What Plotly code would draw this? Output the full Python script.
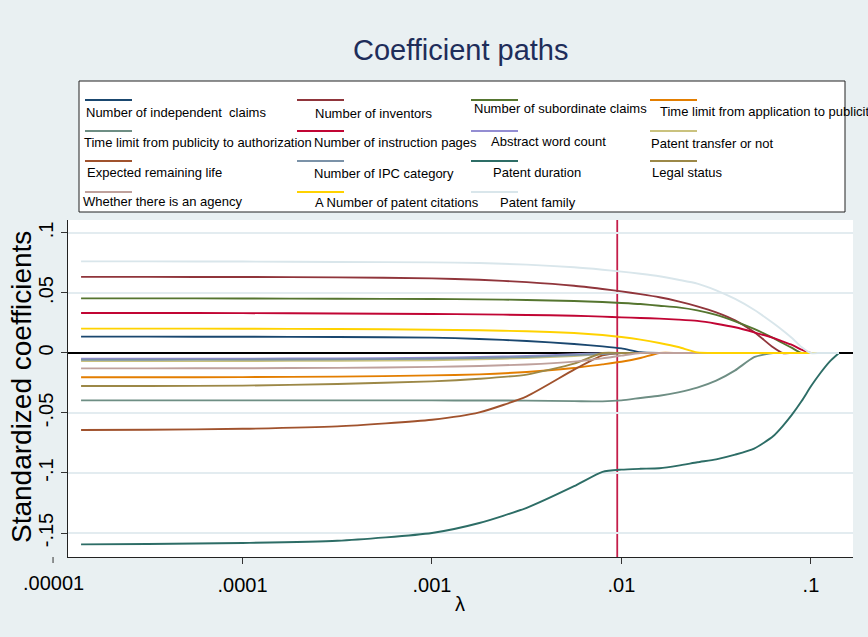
import plotly.graph_objects as go

# ---------------- data ----------------
lambdas = [1.406e-5, 3.162e-5, 1.0e-4, 3.162e-4, 1.0e-3, 1.778e-3, 3.162e-3, 5.623e-3,
           7.943e-3, 1.0e-2, 1.259e-2, 1.585e-2, 1.995e-2, 2.512e-2, 3.162e-2, 3.981e-2,
           5.012e-2, 6.310e-2, 7.079e-2, 7.943e-2, 8.913e-2, 0.1, 0.1122, 0.1259, 0.1406]

series_names = [
    "Number of independent  claims", "Number of inventors", "Number of subordinate claims",
    "Time limit from application to publicity", "Time limit from publicity to authorization",
    "Number of instruction pages", "Abstract word count", "Patent transfer or not",
    "Expected remaining life", "Number of IPC category", "Patent duration", "Legal status",
    "Whether there is an agency", "A Number of patent citations", "Patent family",
]
legend_labels = [
    "Number of independent  claims", "Number of inventors", "Number of subordinate claims",
    "Time limit from application to publicit", "Time limit from publicity to authorization",
    "Number of instruction pages", "Abstract word count", "Patent transfer or not",
    "Expected remaining life", "Number of IPC category", "Patent duration", "Legal status",
    "Whether there is an agency", "A Number of patent citations", "Patent family",
]

independent_claims = [0.0136, 0.0136, 0.0135, 0.0133, 0.0128, 0.0117, 0.0100, 0.0075, 0.0055, 0.0038,
                      0.0006, 0, 0, 0, 0, 0, 0, 0, 0, 0, 0, 0, 0, 0, 0]
inventors = [0.0634, 0.0634, 0.0633, 0.0630, 0.0622, 0.0610, 0.0590, 0.0560, 0.0533, 0.0513,
             0.0490, 0.0464, 0.0430, 0.0389, 0.0339, 0.0272, 0.0175, 0.0047, 0, 0, 0, 0, 0, 0, 0]
subordinate_claims = [0.0455, 0.0455, 0.0454, 0.0452, 0.0450, 0.0447, 0.0442, 0.0433, 0.0425, 0.0417,
                      0.0408, 0.0394, 0.0380, 0.0355, 0.0317, 0.0264, 0.0200, 0.0125, 0.0083, 0.0042,
                      0, 0, 0, 0, 0]
time_app_pub = [-0.0202, -0.0202, -0.0201, -0.0197, -0.0187, -0.0178, -0.0158, -0.0125, -0.0095, -0.0073,
                -0.0042, 0, 0, 0, 0, 0, 0, 0, 0, 0, 0, 0, 0, 0, 0]
time_pub_auth = [-0.0395, -0.0395, -0.0395, -0.0395, -0.0395, -0.0396, -0.0397, -0.0401, -0.0403, -0.0395,
                 -0.0375, -0.0356, -0.0328, -0.0289, -0.0231, -0.0145, -0.0035, 0, 0, 0, 0, 0, 0, 0, 0]
instruction_pages = [0.0333, 0.0333, 0.0332, 0.0329, 0.0325, 0.0322, 0.0317, 0.0310, 0.0303, 0.0297,
                     0.0292, 0.0286, 0.0278, 0.0267, 0.0244, 0.0214, 0.0172, 0.0125, 0.0097, 0.0067,
                     0.0028, 0, 0, 0, 0]
abstract_words = [-0.0048, -0.0048, -0.0047, -0.0045, -0.0040, -0.0034, -0.0025, -0.0010, -0.0003, 0,
                  0, 0, 0, 0, 0, 0, 0, 0, 0, 0, 0, 0, 0, 0, 0]
patent_transfer = [-0.0068, -0.0068, -0.0067, -0.0065, -0.0060, -0.0053, -0.0043, -0.0025, -0.0010, 0,
                   0, 0, 0, 0, 0, 0, 0, 0, 0, 0, 0, 0, 0, 0, 0]
remaining_life = [-0.0642, -0.0640, -0.0632, -0.0612, -0.0556, -0.0495, -0.0361, -0.0139, -0.0020, 0,
                  0, 0, 0, 0, 0, 0, 0, 0, 0, 0, 0, 0, 0, 0, 0]
ipc_category = [-0.0056, -0.0056, -0.0055, -0.0053, -0.0048, -0.0042, -0.0033, -0.0018, -0.0008, 0,
                0, 0, 0, 0, 0, 0, 0, 0, 0, 0, 0, 0, 0, 0, 0]
patent_duration = [-0.1595, -0.1592, -0.1583, -0.1565, -0.1500, -0.1417, -0.1290, -0.1110, -0.0990, -0.0972,
                   -0.0965, -0.0960, -0.0939, -0.0911, -0.0886, -0.0847, -0.0797, -0.0694, -0.0611, -0.0514,
                   -0.0403, -0.0278, -0.0167, -0.0070, 0]
legal_status = [-0.0275, -0.0275, -0.0272, -0.0258, -0.0237, -0.0215, -0.0180, -0.0088, 0, 0,
                0, 0, 0, 0, 0, 0, 0, 0, 0, 0, 0, 0, 0, 0, 0]
agency = [-0.0128, -0.0128, -0.0127, -0.0124, -0.0116, -0.0108, -0.0096, -0.0072, -0.0045, -0.0022,
          0, 0, 0, 0, 0, 0, 0, 0, 0, 0, 0, 0, 0, 0, 0]
citations = [0.0203, 0.0203, 0.0202, 0.0200, 0.0194, 0.0189, 0.0181, 0.0167, 0.0150, 0.0133,
             0.0111, 0.0083, 0.0050, 0.0005, 0, 0, 0, 0, 0, 0, 0, 0, 0, 0, 0]
patent_family = [0.0763, 0.0763, 0.0762, 0.0758, 0.0755, 0.0750, 0.0736, 0.0714, 0.0694, 0.0678,
                 0.0660, 0.0639, 0.0610, 0.0578, 0.0522, 0.0450, 0.0360, 0.0250, 0.0190, 0.0125,
                 0.0050, 0, 0, 0, 0]

series_values = [independent_claims, inventors, subordinate_claims, time_app_pub, time_pub_auth,
                 instruction_pages, abstract_words, patent_transfer, remaining_life, ipc_category,
                 patent_duration, legal_status, agency, citations, patent_family]

lambda_selected = 0.0095

x_tick_vals = [1e-5, 1e-4, 1e-3, 1e-2, 1e-1]
x_tick_text = [".00001", ".0001", ".001", ".01", ".1"]
y_tick_vals = [-0.15, -0.1, -0.05, 0, 0.05, 0.1]
y_tick_text = ["-.15", "-.1", "-.05", "0", ".05", ".1"]

# ---------------- styles ----------------
colors = ["#1a476f", "#90353b", "#55752f", "#e37e00", "#6e8e84", "#c10534", "#938dd2", "#cac27e",
          "#a0522d", "#7b92a8", "#2d6d66", "#9c8847", "#bfa19c", "#ffd200", "#d9e6eb"]
FONT = "Liberation Sans, Arial, sans-serif"
BG = "#e9f0f2"
W, H = 868, 637
L, R, T, B = 68, 853, 220, 557
X_RANGE = [-4.921, -0.778]
Y_RANGE = [-0.17, 0.1108]


def fx(p):
    return (p - L) / (R - L)


def fy(p):
    return (B - p) / (B - T)


fig = go.Figure()
for name, vals, col in zip(series_names, series_values, colors):
    fig.add_trace(go.Scatter(x=lambdas, y=vals, mode="lines", name=name,
                             line=dict(color=col, width=1.9, shape="spline", smoothing=0.6),
                             showlegend=False))

fig.add_shape(type="line", xref="x", yref="paper", x0=lambda_selected, x1=lambda_selected,
              y0=0, y1=1, line=dict(color="#c41e4a", width=1.8), layer="below")

# legend (Stata style: key above label)
key_x = [85, 297, 471, 650]
key_y = [100, 131, 161, 192]
text_pos = [(84, 112), (313, 113), (472, 108), (658, 111),
            (82, 142), (312, 142), (489, 141), (649, 143),
            (85, 172), (312, 173), (491, 172), (650, 172),
            (81, 202), (313, 203), (498, 203)]
fig.add_shape(type="rect", xref="paper", yref="paper", x0=fx(79), x1=fx(845), y0=fy(212), y1=fy(81),
              fillcolor="white", line=dict(color="#222222", width=1))
annotations = []
for i, (lab, col) in enumerate(zip(legend_labels, colors)):
    r, c = divmod(i, 4)
    fig.add_shape(type="line", xref="paper", yref="paper", x0=fx(key_x[c]), x1=fx(key_x[c] + 47),
                  y0=fy(key_y[r]), y1=fy(key_y[r]), line=dict(color=col, width=2))
    tx, ty = text_pos[i]
    annotations.append(dict(text=lab, xref="paper", yref="paper", x=fx(tx), y=fy(ty),
                            xanchor="left", yanchor="middle", showarrow=False,
                            font=dict(family=FONT, size=13, color="black")))

# tick at .00001 lies left of plot region
x00001 = (-5 - X_RANGE[0]) / (X_RANGE[1] - X_RANGE[0])
fig.add_shape(type="line", xref="paper", yref="paper", x0=x00001, x1=x00001, y0=fy(557), y1=fy(563),
              line=dict(color="#333333", width=1))
annotations.append(dict(text=x_tick_text[0], xref="paper", yref="paper", x=x00001, y=fy(570),
                        xanchor="center", yanchor="top", showarrow=False,
                        font=dict(family=FONT, size=20, color="black")))

annotations.append(dict(text="Standardized coefficients", xref="paper", yref="paper", x=fx(21), y=fy(387),
                        xanchor="center", yanchor="middle", textangle=-90, showarrow=False,
                        font=dict(family=FONT, size=28, color="black")))
annotations.append(dict(text="λ", xref="paper", yref="paper", x=fx(460), y=fy(604),
                        xanchor="center", yanchor="middle", showarrow=False,
                        font=dict(family=FONT, size=20, color="black")))
annotations.append(dict(text="Coefficient paths", xref="paper", yref="paper", x=0.5, y=fy(50),
                        xanchor="center", yanchor="middle", showarrow=False,
                        font=dict(family=FONT, size=29, color="#1e2d5a")))

fig.update_layout(
    width=W, height=H,
    margin=dict(l=L, r=W - R, t=T, b=H - B),
    paper_bgcolor=BG, plot_bgcolor="white",
    annotations=annotations,
    showlegend=False,
)
fig.update_xaxes(type="log", range=X_RANGE, tickvals=x_tick_vals[1:], ticktext=x_tick_text[1:],
                 ticks="outside", ticklen=6, tickcolor="#333333", showline=True, linecolor="#222222",
                 linewidth=1, showgrid=False, zeroline=False, ticklabelstandoff=4,
                 tickfont=dict(family=FONT, size=20, color="black"))
fig.update_yaxes(range=Y_RANGE, tickvals=y_tick_vals, ticktext=y_tick_text, tickangle=-90,
                 ticks="outside", ticklen=6, tickcolor="#333333", showline=True, linecolor="#222222",
                 linewidth=1, showgrid=True, gridcolor="#e3ecf0", gridwidth=1.5,
                 zeroline=True, zerolinecolor="black", zerolinewidth=1.8,
                 tickfont=dict(family=FONT, size=20, color="black"))

fig.write_html("out.html", config={"displayModeBar": False},
               post_script="document.body.style.margin='0';document.body.style.background='%s';" % BG)
